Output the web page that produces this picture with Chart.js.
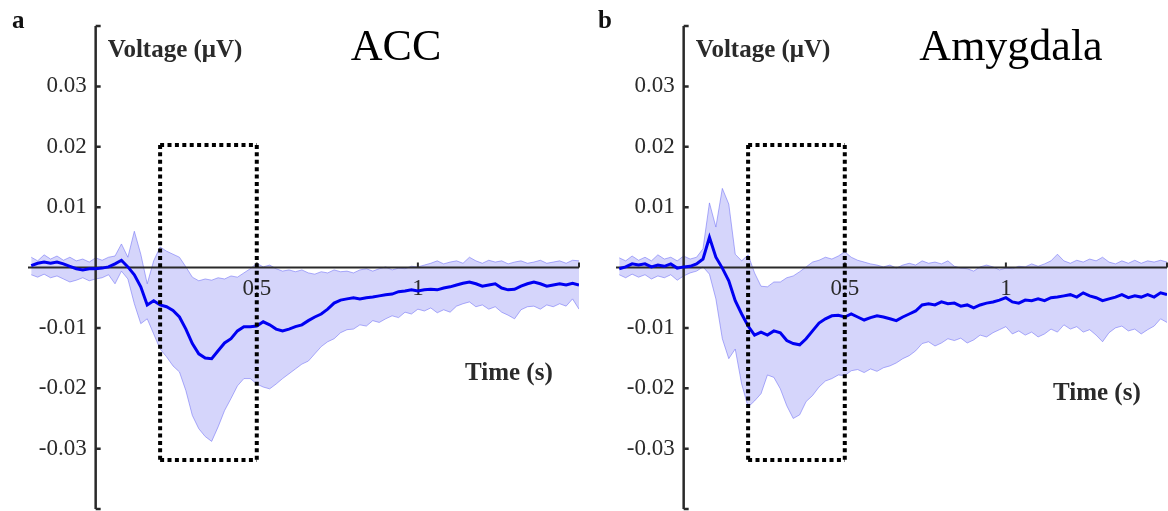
<!DOCTYPE html>
<html>
<head>
<meta charset="utf-8">
<script src="https://cdn.jsdelivr.net/npm/chart.js@4.4.1/dist/chart.umd.min.js"></script>
<style>
  html, body { margin: 0; padding: 0; background: #fff; }
  #wrap { position: relative; width: 1168px; height: 511px; }
  canvas { position: absolute; top: 0; }
</style>
</head>
<body>
<div id="wrap">
  <canvas id="accChart" width="584" height="511" style="left:0px"></canvas>
  <canvas id="amyChart" width="580" height="511" style="left:588px"></canvas>
</div>
<script>
// time axis: samples every 0.02 s from -0.2 s to 1.5 s
const tStart = -0.2;
const tStep = 0.02;
const nSamples = 86;
const times = [];
for (let i = 0; i < nSamples; i++) times.push(+(tStart + i * tStep).toFixed(2));

// ACC (panel a) - mean and upper/lower band
const accMean = [
  0.0003, 0.0007, 0.0009, 0.0007, 0.0009, 0.0006, 0.0002, -0.0002, -0.0004, -0.0002,
  -0.0002, -0.0001, 0.0001, 0.0006, 0.0012, 0.0001, -0.0012, -0.0032, -0.0062, -0.0055,
  -0.0062, -0.0065, -0.0071, -0.0082, -0.0102, -0.0126, -0.0143, -0.0150, -0.0151, -0.0138,
  -0.0125, -0.0118, -0.0105, -0.0098, -0.0098, -0.0097, -0.0090, -0.0095, -0.0102, -0.0105,
  -0.0102, -0.0098, -0.0095, -0.0088, -0.0082, -0.0077, -0.0069, -0.0059, -0.0054, -0.0052,
  -0.0050, -0.0052, -0.0050, -0.0049, -0.0047, -0.0045, -0.0044, -0.0040, -0.0039, -0.0037,
  -0.0039, -0.0037, -0.0036, -0.0037, -0.0034, -0.0032, -0.0029, -0.0026, -0.0024, -0.0027,
  -0.0031, -0.0029, -0.0027, -0.0034, -0.0037, -0.0036, -0.0031, -0.0027, -0.0024, -0.0027,
  -0.0031, -0.0029, -0.0027, -0.0029, -0.0026, -0.0029
];
const accUpper = [
  0.0017, 0.0011, 0.0021, 0.0014, 0.0019, 0.0012, 0.0017, 0.0011, 0.0014, 0.0009,
  0.0016, 0.0012, 0.0017, 0.0019, 0.0039, 0.0017, 0.0060, 0.0022, -0.0027, 0.0011,
  0.0034, 0.0027, 0.0022, 0.0017, 0.0001, -0.0016, -0.0022, -0.0019, -0.0021, -0.0017,
  -0.0019, -0.0014, -0.0016, -0.0009, -0.0002, 0.0007, 0.0001, 0.0004, -0.0002, -0.0006,
  -0.0004, -0.0007, -0.0004, -0.0009, -0.0011, -0.0007, -0.0009, -0.0004, -0.0007, -0.0006,
  -0.0009, -0.0004, -0.0002, -0.0006, -0.0002, 0.0001, -0.0004, -0.0001, -0.0002, 0.0002,
  0.0001, 0.0004, 0.0007, 0.0011, 0.0006, 0.0009, 0.0011, 0.0007, 0.0017, 0.0011,
  0.0007, 0.0012, 0.0009, 0.0011, 0.0006, 0.0009, 0.0011, 0.0007, 0.0009, 0.0012,
  0.0007, 0.0009, 0.0011, 0.0007, 0.0012, 0.0011
];
const accLower = [
  -0.0012, -0.0016, -0.0011, -0.0017, -0.0014, -0.0019, -0.0024, -0.0021, -0.0017, -0.0022,
  -0.0019, -0.0017, -0.0012, -0.0027, -0.0006, -0.0019, -0.0060, -0.0093, -0.0085, -0.0110,
  -0.0135, -0.0148, -0.0163, -0.0173, -0.0204, -0.0245, -0.0267, -0.0280, -0.0288, -0.0264,
  -0.0237, -0.0217, -0.0196, -0.0184, -0.0184, -0.0193, -0.0198, -0.0201, -0.0193, -0.0184,
  -0.0176, -0.0168, -0.0160, -0.0155, -0.0143, -0.0131, -0.0123, -0.0118, -0.0108, -0.0103,
  -0.0102, -0.0095, -0.0097, -0.0088, -0.0091, -0.0085, -0.0080, -0.0083, -0.0074, -0.0077,
  -0.0069, -0.0072, -0.0067, -0.0075, -0.0070, -0.0074, -0.0064, -0.0060, -0.0057, -0.0065,
  -0.0062, -0.0069, -0.0065, -0.0074, -0.0079, -0.0085, -0.0070, -0.0065, -0.0064, -0.0069,
  -0.0062, -0.0065, -0.0060, -0.0064, -0.0052, -0.0069
];

// Amygdala (panel b)
const amyMean = [
  -0.0002, 0.0001, 0.0006, 0.0004, 0.0006, 0.0001, 0.0004, 0.0002, 0.0006, -0.0001,
  0.0001, 0.0002, 0.0006, 0.0014, 0.0050, 0.0017, -0.0001, -0.0022, -0.0055, -0.0077,
  -0.0097, -0.0112, -0.0107, -0.0112, -0.0105, -0.0108, -0.0121, -0.0126, -0.0128, -0.0118,
  -0.0105, -0.0092, -0.0085, -0.0080, -0.0079, -0.0082, -0.0077, -0.0082, -0.0087, -0.0083,
  -0.0080, -0.0082, -0.0085, -0.0088, -0.0082, -0.0077, -0.0072, -0.0062, -0.0060, -0.0062,
  -0.0057, -0.0060, -0.0059, -0.0064, -0.0062, -0.0067, -0.0062, -0.0059, -0.0057, -0.0054,
  -0.0050, -0.0057, -0.0059, -0.0054, -0.0055, -0.0052, -0.0055, -0.0050, -0.0049, -0.0047,
  -0.0045, -0.0049, -0.0042, -0.0047, -0.0050, -0.0055, -0.0052, -0.0049, -0.0045, -0.0050,
  -0.0047, -0.0049, -0.0045, -0.0049, -0.0042, -0.0045
];
const amyUpper = [
  0.0016, 0.0011, 0.0019, 0.0012, 0.0017, 0.0011, 0.0021, 0.0014, 0.0017, 0.0011,
  0.0019, 0.0014, 0.0017, 0.0031, 0.0107, 0.0067, 0.0131, 0.0105, 0.0022, 0.0011,
  0.0021, -0.0009, -0.0031, -0.0032, -0.0024, -0.0024, -0.0017, -0.0014, -0.0007, 0.0001,
  0.0009, 0.0012, 0.0017, 0.0014, 0.0019, 0.0026, 0.0017, 0.0012, 0.0009, 0.0006,
  0.0004, 0.0001, 0.0004, -0.0001, 0.0004, 0.0007, 0.0004, 0.0011, 0.0007, 0.0009,
  0.0006, 0.0011, 0.0002, -0.0001, -0.0002, -0.0006, 0.0001, 0.0004, 0.0001, -0.0004,
  -0.0001, -0.0002, 0.0002, 0.0001, 0.0006, 0.0002, 0.0006, 0.0011, 0.0022, 0.0011,
  0.0007, 0.0012, 0.0009, 0.0014, 0.0011, 0.0017, 0.0009, 0.0006, 0.0011, 0.0007,
  0.0012, 0.0007, 0.0011, 0.0009, 0.0012, 0.0009
];
const amyLower = [
  -0.0012, -0.0017, -0.0011, -0.0016, -0.0012, -0.0019, -0.0014, -0.0017, -0.0012, -0.0021,
  -0.0014, -0.0009, -0.0006, 0.0001, -0.0011, -0.0052, -0.0118, -0.0151, -0.0135, -0.0193,
  -0.0231, -0.0221, -0.0209, -0.0178, -0.0182, -0.0201, -0.0229, -0.0250, -0.0244, -0.0222,
  -0.0212, -0.0198, -0.0188, -0.0184, -0.0178, -0.0179, -0.0171, -0.0169, -0.0174, -0.0168,
  -0.0172, -0.0166, -0.0163, -0.0158, -0.0151, -0.0146, -0.0138, -0.0126, -0.0123, -0.0130,
  -0.0125, -0.0118, -0.0121, -0.0117, -0.0125, -0.0120, -0.0112, -0.0115, -0.0108, -0.0103,
  -0.0098, -0.0110, -0.0105, -0.0112, -0.0107, -0.0115, -0.0110, -0.0102, -0.0107, -0.0095,
  -0.0102, -0.0098, -0.0107, -0.0103, -0.0112, -0.0123, -0.0108, -0.0100, -0.0097, -0.0105,
  -0.0102, -0.0110, -0.0103, -0.0097, -0.0085, -0.0091
];

// axes
const yTickMarks = [-0.04, -0.03, -0.02, -0.01, 0.01, 0.02, 0.03, 0.04];
const yTickLabels = [0.03, 0.02, 0.01, -0.01, -0.02, -0.03];
const xTickMarks = [0.5, 1, 1.5];
const xTickLabels = [0.5, 1];
const xMin = -0.21, xMax = 1.5;
const yMin = -0.04, yMax = 0.04;

// analysis window (dotted box)
const boxT = [0.2, 0.5];
const boxV = [-0.0319, 0.0203];

const serif = '"Liberation Serif", "Times New Roman", Times, serif';
const ink = '#2a2a2a';

function pts(arr) {
  return times.map((t, i) => ({x: t, y: arr[i]}));
}

const panelDecor = {
  id: 'panelDecor',
  afterDatasetDraw(chart, args, opts) {
    if (args.index !== 1) return;   // after the band, before the mean line
    const ctx = chart.ctx;
    const xs = chart.scales.x, ys = chart.scales.y;
    const x0 = xs.getPixelForValue(0), y0 = ys.getPixelForValue(0);
    ctx.save();
    ctx.strokeStyle = ink;
    ctx.lineCap = 'butt';
    // x axis through zero
    ctx.lineWidth = 2;
    ctx.beginPath();
    ctx.moveTo(xs.getPixelForValue(xMin), y0);
    ctx.lineTo(xs.getPixelForValue(xMax), y0);
    xTickMarks.forEach(t => {
      const px = xs.getPixelForValue(t);
      ctx.moveTo(px, y0);
      ctx.lineTo(px, y0 - 5);
    });
    ctx.stroke();
    // y axis at t = 0
    ctx.lineWidth = 2.5;
    ctx.beginPath();
    ctx.moveTo(x0, ys.getPixelForValue(yMax));
    ctx.lineTo(x0, ys.getPixelForValue(yMin));
    yTickMarks.forEach(v => {
      const py = ys.getPixelForValue(v);
      ctx.moveTo(x0, py);
      ctx.lineTo(x0 + 5, py);
    });
    ctx.stroke();

    ctx.fillStyle = ink;
    ctx.font = '23px ' + serif;
    ctx.textAlign = 'right';
    ctx.textBaseline = 'middle';
    yTickLabels.forEach(v => ctx.fillText(String(v), x0 - 9, ys.getPixelForValue(v)));
    ctx.textAlign = 'center';
    ctx.textBaseline = 'alphabetic';
    xTickLabels.forEach(t => ctx.fillText(String(t), xs.getPixelForValue(t), y0 + 27));
    ctx.restore();
  },
  afterDatasetsDraw(chart, args, opts) {
    const ctx = chart.ctx;
    const xs = chart.scales.x, ys = chart.scales.y;
    const x0 = xs.getPixelForValue(0);
    ctx.save();
    // dotted window
    ctx.strokeStyle = '#000';
    ctx.lineWidth = 4;
    ctx.setLineDash([4, 3.4]);
    ctx.beginPath();
    const bl = xs.getPixelForValue(boxT[0]), br = xs.getPixelForValue(boxT[1]);
    const bt = ys.getPixelForValue(boxV[1]), bb = ys.getPixelForValue(boxV[0]);
    ctx.moveTo(bl, bt); ctx.lineTo(br, bt);
    ctx.moveTo(br, bt); ctx.lineTo(br, bb);
    ctx.moveTo(bl, bb); ctx.lineTo(br, bb);
    ctx.moveTo(bl, bt); ctx.lineTo(bl, bb);
    ctx.stroke();
    ctx.setLineDash([]);

    // texts
    ctx.fillStyle = '#111';
    ctx.textAlign = 'left';
    ctx.textBaseline = 'alphabetic';
    ctx.font = 'bold 25px ' + serif;
    ctx.fillText(opts.letter, opts.letterX, 28);
    ctx.fillStyle = ink;
    ctx.font = 'bold 25px ' + serif;
    ctx.fillText('Voltage (μV)', x0 + 12, 57);
    ctx.fillText('Time (s)', opts.timeX, opts.timeY);
    ctx.fillStyle = '#000';
    ctx.font = '44px ' + serif;
    ctx.textAlign = 'center';
    ctx.fillText(opts.title, opts.titleX, 60);
    ctx.restore();
  }
};

function makePanel(id, mean, upper, lower, padL, padR, decor) {
  return new Chart(document.getElementById(id), {
    type: 'line',
    data: {
      datasets: [
        { data: pts(mean), borderColor: '#0000f2', borderWidth: 3, pointRadius: 0, fill: false, order: 0 },
        { data: pts(upper), borderColor: 'rgba(110,110,245,0.55)', borderWidth: 1, pointRadius: 0,
          fill: '+1', backgroundColor: 'rgb(213,213,251)', order: 1 },
        { data: pts(lower), borderColor: 'rgba(110,110,245,0.55)', borderWidth: 1, pointRadius: 0, fill: false, order: 2 }
      ]
    },
    options: {
      responsive: false,
      animation: false,
      events: [],
      layout: { padding: { left: padL, right: padR, top: 26, bottom: 2 } },
      scales: {
        x: { type: 'linear', min: xMin, max: xMax, display: false },
        y: { type: 'linear', min: yMin, max: yMax, display: false }
      },
      plugins: {
        legend: { display: false },
        tooltip: { enabled: false },
        filler: { drawTime: 'beforeDatasetsDraw' },
        panelDecor: decor
      }
    },
    plugins: [panelDecor]
  });
}

makePanel('accChart', accMean, accUpper, accLower, 28, 5,
  { letter: 'a', letterX: 12, title: 'ACC', titleX: 396, timeX: 465, timeY: 380 });
makePanel('amyChart', amyMean, amyUpper, amyLower, 28, 1,
  { letter: 'b', letterX: 10, title: 'Amygdala', titleX: 423, timeX: 465, timeY: 400 });
</script>
</body>
</html>
